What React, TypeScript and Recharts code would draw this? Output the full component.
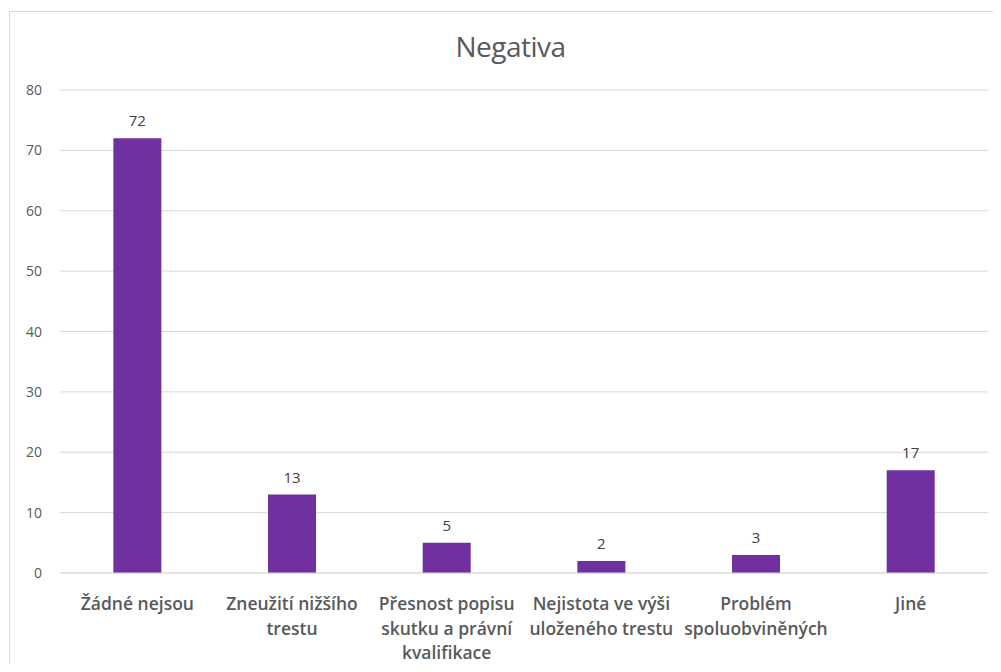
import React from 'react';
import { BarChart, Bar, XAxis, YAxis, CartesianGrid, LabelList } from 'recharts';

const categories = [
  'Žádné nejsou',
  'Zneužití nižšího trestu',
  'Přesnost popisu skutku a právní kvalifikace',
  'Nejistota ve výši uloženého trestu',
  'Problém spoluobviněných',
  'Jiné',
];
const values = [72, 13, 5, 2, 3, 17];
const yTicks = [0, 10, 20, 30, 40, 50, 60, 70, 80];

const data = categories.map((name, i) => ({ name, value: values[i] }));

const FONT = '"Open Sans", Lato, sans-serif';

let canvasCtx: CanvasRenderingContext2D | null = null;
function measure(text: string, font: string): number {
  if (!canvasCtx) {
    const c = document.createElement('canvas');
    canvasCtx = c.getContext('2d');
  }
  if (!canvasCtx) return text.length * 8;
  canvasCtx.font = font;
  return canvasCtx.measureText(text).width;
}

function wrap(text: string, maxWidth: number, font: string): string[] {
  const words = text.split(' ');
  const lines: string[] = [];
  let cur = '';
  for (const w of words) {
    const test = cur ? cur + ' ' + w : w;
    if (measure(test, font) <= maxWidth || !cur) {
      cur = test;
    } else {
      lines.push(cur);
      cur = w;
    }
  }
  if (cur) lines.push(cur);
  return lines;
}

const XTick = (props: any) => {
  const { x, y, payload } = props;
  const font = `600 17.5px ${FONT}`;
  const lines = wrap(payload.value, 153, font);
  return (
    <g transform={`translate(${x},${y})`}>
      <text textAnchor="middle" fill="#595959" fontSize={17.5} fontWeight={600} fontFamily={FONT}>
        {lines.map((l, i) => (
          <tspan key={i} x={0} dy={i === 0 ? 35 : 24.5}>
            {l}
          </tspan>
        ))}
      </text>
    </g>
  );
};

const YTick = (props: any) => {
  const { x, y, payload } = props;
  return (
    <text x={x} y={y} dy={5} textAnchor="end" fill="#595959" fontSize={14} fontFamily={FONT}>
      {payload.value}
    </text>
  );
};

export default function App() {
  return (
    <div style={{ position: 'relative', width: 1001, height: 672, margin: '-8px', overflow: 'hidden', background: '#fff' }}>
      <div
        style={{
          position: 'absolute',
          left: 9,
          top: 11,
          width: 1000,
          height: 670,
          border: '1.5px solid #d9d9d9',
          boxSizing: 'border-box',
        }}
      />
      <div
        style={{
          position: 'absolute',
          left: 0,
          top: 27,
          width: 1001,
          textAlign: 'center',
          fontFamily: FONT,
          fontSize: 28,
          fontWeight: 500,
          color: '#595959',
          paddingLeft: 20,
          boxSizing: 'border-box',
          letterSpacing: -0.5,
        }}
      >
        Negativa
      </div>
      <div style={{ position: 'absolute', left: 0, top: 0 }}>
        <BarChart
          width={1001}
          height={672}
          data={data}
          margin={{ top: 90, right: 13, bottom: 0, left: 0 }}
          barCategoryGap="34.5%"
        >
          <CartesianGrid vertical={false} stroke="#d9d9d9" strokeWidth={1} />
          <XAxis
            dataKey="name"
            axisLine={{ stroke: '#d9d9d9' }}
            tickLine={false}
            interval={0}
            height={99}
            tickSize={0}
            tick={<XTick />}
          />
          <YAxis
            domain={[0, 80]}
            ticks={yTicks}
            axisLine={false}
            tickLine={false}
            width={60}
            tickMargin={12}
            tick={<YTick />}
          />
          <Bar dataKey="value" fill="#7030A0" isAnimationActive={false}>
            <LabelList dataKey="value" position="top" offset={12} fill="#404040" fontSize={15} fontFamily={FONT} />
          </Bar>
        </BarChart>
      </div>
    </div>
  );
}
